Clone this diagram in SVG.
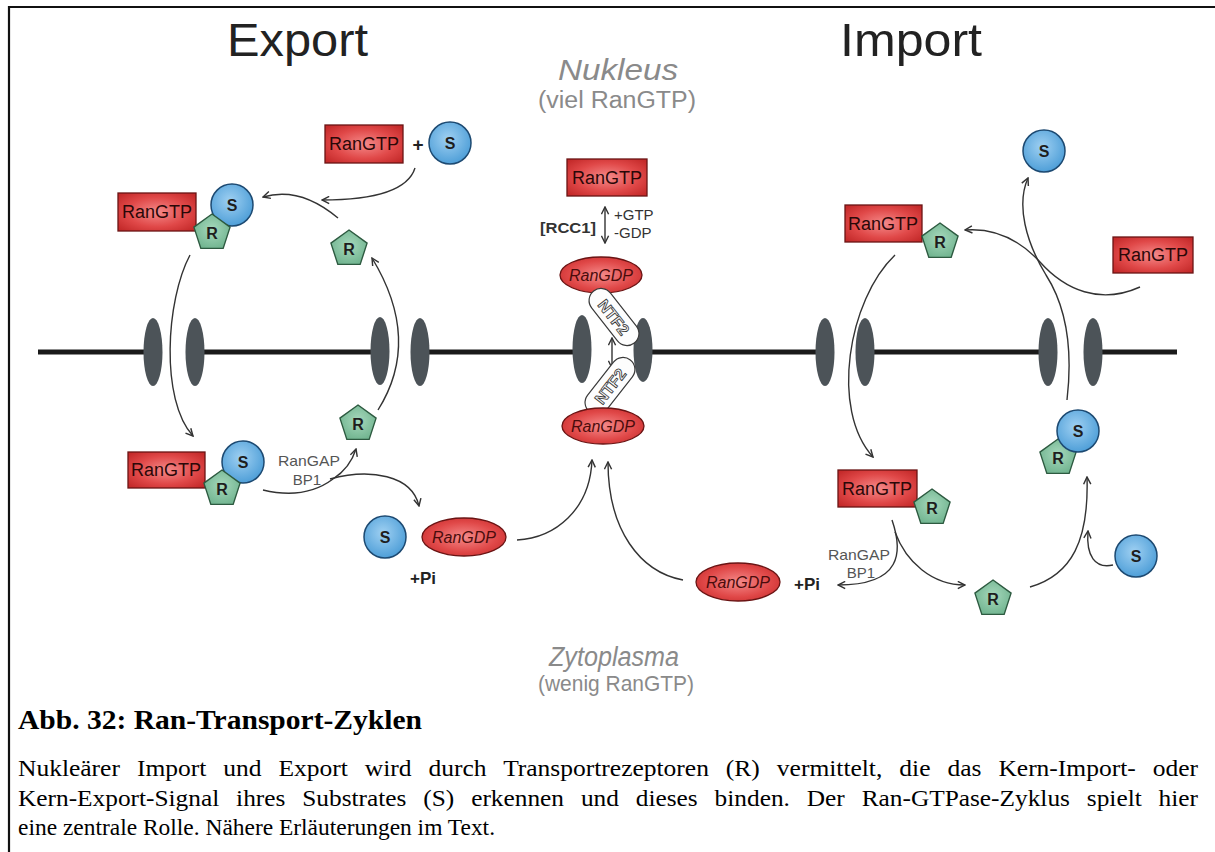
<svg xmlns="http://www.w3.org/2000/svg" xmlns:xlink="http://www.w3.org/1999/xlink" width="1215" height="852" viewBox="0 0 1215 852">
  <style>
    .lbl { font-family: "Liberation Sans", Arial, sans-serif; }
    .ran { font-family: "Liberation Sans", Arial, sans-serif; font-size: 18px; fill: #2a0808; text-anchor: middle; }
    .gdp { font-family: "Liberation Sans", Arial, sans-serif; font-size: 16px; font-style: italic; fill: #4a0c0c; text-anchor: middle; }
    .sym { font-family: "Liberation Sans", Arial, sans-serif; font-size: 16px; font-weight: bold; fill: #1e1e1e; text-anchor: middle; }
    .gtp { fill: url(#gRed); stroke: #6a1414; stroke-width: 1.3; }
    .s { fill: url(#gBlue); stroke: #1d4a72; stroke-width: 1.5; }
    .r { fill: url(#gGreen); stroke: #2d5a40; stroke-width: 1.4; }
    .pore { fill: #4c5358; }
    .arr { fill: none; stroke: #333; stroke-width: 1.4; }
    .gray { font-family: "Liberation Sans", Arial, sans-serif; fill: #8a8a8a; text-anchor: middle; }
    .cap { font-family: "Liberation Serif", "Times New Roman", serif; fill: #000; }
    .ntf { fill: #fdfdfd; stroke: #3a3a3a; stroke-width: 1.2; }
    .ntft { font-family: "Liberation Sans", Arial, sans-serif; font-size: 16px; font-weight: bold; fill: #f6f6f6; stroke: #333; stroke-width: 0.8; text-anchor: middle; }
  </style>
  <defs>
    <radialGradient id="gRed" cx="50%" cy="50%" r="65%">
      <stop offset="0" stop-color="#f58a8a"/>
      <stop offset="0.6" stop-color="#e04848"/>
      <stop offset="1" stop-color="#c42a2a"/>
    </radialGradient>
    <radialGradient id="gBlue" cx="45%" cy="40%" r="60%">
      <stop offset="0" stop-color="#9fd0f2"/>
      <stop offset="1" stop-color="#4f9fd8"/>
    </radialGradient>
    <radialGradient id="gGreen" cx="50%" cy="45%" r="60%">
      <stop offset="0" stop-color="#a6d8bc"/>
      <stop offset="1" stop-color="#6fb38e"/>
    </radialGradient>
    <polygon id="pent" points="0,-19 18.07,-5.87 11.17,15.37 -11.17,15.37 -18.07,-5.87"/>
    <marker id="ah" viewBox="0 0 10 10" refX="9" refY="5" markerWidth="9" markerHeight="9" markerUnits="userSpaceOnUse" orient="auto-start-reverse">
      <path d="M1,1 L9,5 L1,9" fill="none" stroke="#333" stroke-width="1.6"/>
    </marker>
  </defs>

  <rect width="1215" height="852" fill="#fff"/>

  <!-- page frame -->
  <g id="frame" stroke="#111" stroke-width="2.2" fill="none">
    <line x1="8" y1="7" x2="1215" y2="7"/>
    <line x1="9" y1="6" x2="9" y2="852"/>
  </g>

  <!-- headings -->
  <g id="headings">
    <text class="lbl" x="227" y="56" font-size="47" fill="#222" textLength="141" lengthAdjust="spacingAndGlyphs">Export</text>
    <text class="lbl" x="840" y="56" font-size="47" fill="#222" textLength="142" lengthAdjust="spacingAndGlyphs">Import</text>
    <text class="gray" x="618" y="80" font-size="30" font-style="italic" textLength="120" lengthAdjust="spacingAndGlyphs">Nukleus</text>
    <text class="gray" x="617" y="108" font-size="23" textLength="158" lengthAdjust="spacingAndGlyphs">(viel RanGTP)</text>
    <text class="gray" x="614" y="666" font-size="27" font-style="italic" textLength="130" lengthAdjust="spacingAndGlyphs">Zytoplasma</text>
    <text class="gray" x="616" y="691" font-size="22" textLength="156" lengthAdjust="spacingAndGlyphs">(wenig RanGTP)</text>
  </g>

  <!-- nuclear envelope with pore complexes -->
  <g id="membrane">
    <g stroke="#1a1a1a" stroke-width="5">
      <line x1="38" y1="352" x2="152" y2="352"/>
      <line x1="195" y1="352" x2="380" y2="352"/>
      <line x1="420" y1="352" x2="580" y2="352"/>
      <line x1="643" y1="352" x2="825" y2="352"/>
      <line x1="865" y1="352" x2="1048" y2="352"/>
      <line x1="1093" y1="352" x2="1177" y2="352"/>
    </g>
    <ellipse class="pore" cx="153" cy="352" rx="9.5" ry="34"/>
    <ellipse class="pore" cx="195" cy="352" rx="9.5" ry="34"/>
    <ellipse class="pore" cx="380" cy="351" rx="9.5" ry="34"/>
    <ellipse class="pore" cx="420" cy="352" rx="9.5" ry="34"/>
    <ellipse class="pore" cx="582" cy="349" rx="9.5" ry="34"/>
    <ellipse class="pore" cx="643" cy="350" rx="9.5" ry="32"/>
    <ellipse class="pore" cx="825" cy="352" rx="9.5" ry="34"/>
    <ellipse class="pore" cx="865" cy="352" rx="9.5" ry="34"/>
    <ellipse class="pore" cx="1048" cy="352" rx="9.5" ry="34"/>
    <ellipse class="pore" cx="1093" cy="352" rx="9.5" ry="34"/>
  </g>

  <!-- reaction arrows -->
  <g id="connectors">
    <!-- export cycle -->
    <path class="arr" marker-end="url(#ah)" d="M415,168 Q405,200 322,200"/>
    <path class="arr" marker-end="url(#ah)" d="M338,218 Q300,186 263,197"/>
    <path class="arr" marker-end="url(#ah)" d="M190,255 C166,300 160,400 193,436"/>
    <path class="arr" marker-end="url(#ah)" d="M378,410 Q422,340 372,258"/>
    <path class="arr" d="M263,490 Q305,500 333,479"/>
    <path class="arr" marker-end="url(#ah)" d="M333,479 Q350,468 356,449"/>
    <path class="arr" marker-end="url(#ah)" d="M330,479 C370,468 412,475 419,506"/>
    <!-- Ran-GDP return to the nucleus -->
    <path class="arr" marker-end="url(#ah)" d="M517,540 C555,538 590,510 592,460"/>
    <path class="arr" marker-end="url(#ah)" d="M683,580 C640,572 608,530 608,462"/>
    <path class="arr" marker-start="url(#ah)" marker-end="url(#ah)" d="M605,207 L605,243"/>
    <path class="arr" marker-start="url(#ah)" marker-end="url(#ah)" d="M612,338 L612,368"/>
    <!-- import cycle -->
    <path class="arr" marker-end="url(#ah)" d="M1140,287 C1100,305 1065,290 1040,262 C1015,235 990,228 965,230"/>
    <path class="arr" marker-end="url(#ah)" d="M1067,400 C1074,340 1062,300 1046,275 C1026,242 1016,205 1028,178"/>
    <path class="arr" marker-end="url(#ah)" d="M895,255 C848,300 830,410 873,457"/>
    <path class="arr" marker-end="url(#ah)" d="M892,520 C903,552 902,585 838,585"/>
    <path class="arr" marker-end="url(#ah)" d="M895,532 C906,562 932,585 965,585"/>
    <path class="arr" marker-end="url(#ah)" d="M1030,587 C1072,575 1089,540 1087,477"/>
    <path class="arr" marker-end="url(#ah)" d="M1113,565 C1095,569 1086,556 1088,531"/>
  </g>

  <!-- export: free RanGTP + substrate -->
  <g id="exp-ranGTP-free">
    <rect class="gtp" x="325" y="125" width="78" height="38"/>
    <text class="ran" x="364" y="150">RanGTP</text>
  </g>
  <g id="exp-plus">
    <text class="lbl" x="418" y="151" font-size="19" font-weight="bold" fill="#222" text-anchor="middle">+</text>
  </g>
  <g id="exp-S-free">
    <circle class="s" cx="450" cy="143" r="21"/>
    <text class="sym" x="450" y="149">S</text>
  </g>

  <!-- export complex in the nucleus -->
  <g id="exp-complex-nuc">
    <rect class="gtp" x="118" y="193" width="78" height="38"/>
    <text class="ran" x="157" y="218">RanGTP</text>
    <circle class="s" cx="232" cy="205" r="21"/>
    <text class="sym" x="232" y="211">S</text>
    <use href="#pent" class="r" x="212" y="233"/>
    <text class="sym" x="212" y="239">R</text>
  </g>

  <g id="exp-R-nuc">
    <use href="#pent" class="r" x="349" y="249"/>
    <text class="sym" x="349" y="255">R</text>
  </g>

  <!-- export complex in the cytoplasm -->
  <g id="exp-complex-cyt">
    <rect class="gtp" x="128" y="452" width="77" height="36"/>
    <text class="ran" x="166" y="476">RanGTP</text>
    <circle class="s" cx="243" cy="462" r="21"/>
    <text class="sym" x="243" y="468">S</text>
    <use href="#pent" class="r" x="222" y="489"/>
    <text class="sym" x="222" y="495">R</text>
  </g>

  <g id="exp-R-cyt">
    <use href="#pent" class="r" x="358" y="424"/>
    <text class="sym" x="358" y="430">R</text>
  </g>

  <g id="exp-rangap">
    <text class="lbl" x="309" y="466" font-size="15" fill="#555" text-anchor="middle" textLength="62" lengthAdjust="spacingAndGlyphs">RanGAP</text>
    <text class="lbl" x="307" y="485" font-size="15" fill="#555" text-anchor="middle">BP1</text>
  </g>

  <g id="exp-S-cyt">
    <circle class="s" cx="385" cy="537" r="21"/>
    <text class="sym" x="385" y="543">S</text>
  </g>

  <g id="exp-ranGDP">
    <ellipse class="gtp" cx="464" cy="537" rx="42" ry="19"/>
    <text class="gdp" x="464" y="543">RanGDP</text>
    <text class="lbl" x="423" y="584" font-size="17" font-weight="bold" fill="#222" text-anchor="middle">+Pi</text>
  </g>

  <!-- Ran cycle between the compartments -->
  <g id="nuc-ranGTP">
    <rect class="gtp" x="567" y="159" width="80" height="37"/>
    <text class="ran" x="607" y="184">RanGTP</text>
  </g>
  <g id="rcc1">
    <text class="lbl" x="596" y="233" font-size="15" font-weight="bold" fill="#333" text-anchor="end" textLength="56" lengthAdjust="spacingAndGlyphs">[RCC1]</text>
    <text class="lbl" x="614" y="220" font-size="15" fill="#333">+GTP</text>
    <text class="lbl" x="614" y="238" font-size="15" fill="#333">-GDP</text>
  </g>
  <g id="nuc-ranGDP">
    <ellipse class="gtp" cx="601" cy="275" rx="41" ry="18"/>
    <text class="gdp" x="601" y="281">RanGDP</text>
  </g>
  <g id="ntf2-nuc">
    <rect class="ntf" x="-33" y="-12" width="66" height="24" rx="12" transform="translate(614,317) rotate(52)"/>
    <text class="ntft" transform="translate(614,317) rotate(52)" y="6">NTF2</text>
  </g>
  <g id="ntf2-cyt">
    <rect class="ntf" x="-33" y="-12" width="66" height="24" rx="12" transform="translate(610,386) rotate(-52)"/>
    <text class="ntft" transform="translate(610,386) rotate(-52)" y="6">NTF2</text>
  </g>
  <g id="cyt-ranGDP">
    <ellipse class="gtp" cx="603" cy="426" rx="41" ry="18"/>
    <text class="gdp" x="603" y="432">RanGDP</text>
  </g>

  <!-- import side -->
  <g id="imp-ranGDP">
    <ellipse class="gtp" cx="738" cy="582" rx="42" ry="19"/>
    <text class="gdp" x="738" y="588">RanGDP</text>
    <text class="lbl" x="807" y="590" font-size="17" font-weight="bold" fill="#222" text-anchor="middle">+Pi</text>
  </g>

  <g id="imp-S-nuc">
    <circle class="s" cx="1044" cy="151" r="21"/>
    <text class="sym" x="1044" y="157">S</text>
  </g>

  <g id="imp-complex-nuc">
    <rect class="gtp" x="845" y="205" width="77" height="37"/>
    <text class="ran" x="883" y="230">RanGTP</text>
    <use href="#pent" class="r" x="940" y="242"/>
    <text class="sym" x="940" y="248">R</text>
  </g>

  <g id="imp-ranGTP-free">
    <rect class="gtp" x="1113" y="237" width="80" height="36"/>
    <text class="ran" x="1153" y="261">RanGTP</text>
  </g>

  <g id="imp-SR-cyt">
    <use href="#pent" class="r" x="1058" y="458"/>
    <text class="sym" x="1058" y="464">R</text>
    <circle class="s" cx="1078" cy="431" r="21"/>
    <text class="sym" x="1078" y="437">S</text>
  </g>

  <g id="imp-complex-cyt">
    <rect class="gtp" x="838" y="470" width="79" height="37"/>
    <text class="ran" x="877" y="495">RanGTP</text>
    <use href="#pent" class="r" x="932" y="508"/>
    <text class="sym" x="932" y="514">R</text>
  </g>

  <g id="imp-rangap">
    <text class="lbl" x="859" y="560" font-size="15" fill="#555" text-anchor="middle" textLength="62" lengthAdjust="spacingAndGlyphs">RanGAP</text>
    <text class="lbl" x="861" y="578" font-size="15" fill="#555" text-anchor="middle">BP1</text>
  </g>

  <g id="imp-R-cyt">
    <use href="#pent" class="r" x="993" y="599"/>
    <text class="sym" x="993" y="605">R</text>
  </g>

  <g id="imp-S-cyt">
    <circle class="s" cx="1136" cy="556" r="21"/>
    <text class="sym" x="1136" y="562">S</text>
  </g>

  <!-- figure caption -->
  <g id="caption">
    <text class="cap" x="18" y="729" font-size="27" font-weight="bold" textLength="404" lengthAdjust="spacingAndGlyphs">Abb. 32: Ran-Transport-Zyklen</text>
    <text class="cap" x="18" y="776" font-size="24" word-spacing="10" textLength="1180" lengthAdjust="spacingAndGlyphs">Nukleärer Import und Export wird durch Transportrezeptoren (R) vermittelt, die das Kern-Import- oder</text>
    <text class="cap" x="18" y="806" font-size="24" word-spacing="10" textLength="1180" lengthAdjust="spacingAndGlyphs">Kern-Export-Signal ihres Substrates (S) erkennen und dieses binden. Der Ran-GTPase-Zyklus spielt hier</text>
    <text class="cap" x="18" y="835" font-size="24" textLength="477" lengthAdjust="spacingAndGlyphs">eine zentrale Rolle. Nähere Erläuterungen im Text.</text>
  </g>
</svg>
